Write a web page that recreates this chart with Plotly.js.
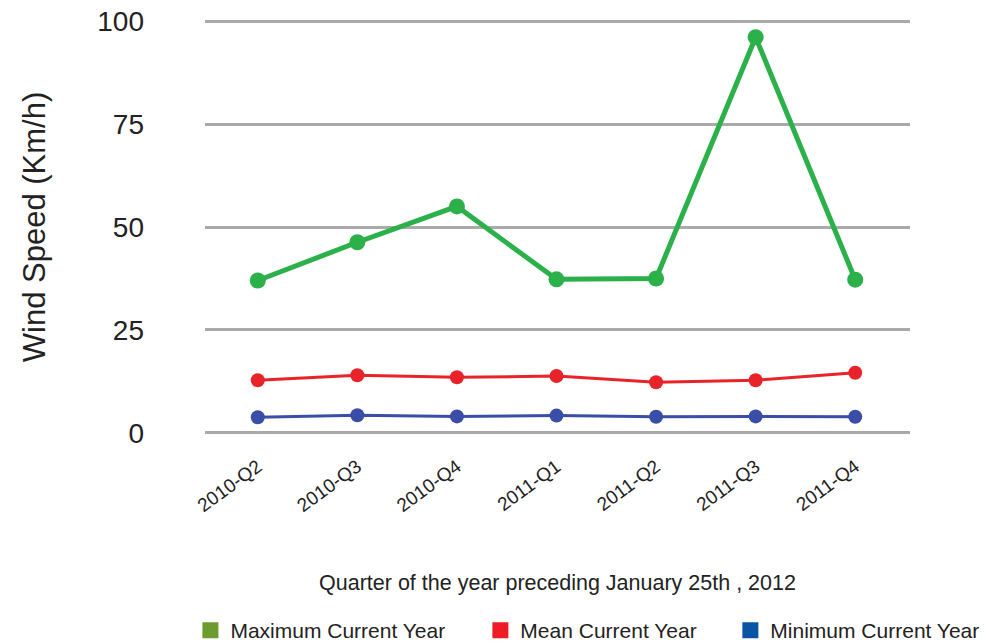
<!DOCTYPE html>
<html>
<head>
<meta charset="utf-8">
<script src="https://cdn.plot.ly/plotly-3.0.1.min.js"></script>
<style>html,body{margin:0;padding:0;background:#fff;}#chart{width:987px;height:644px;}</style>
</head>
<body>
<div id="chart"></div>
<script>
const quarters = ["2010-Q2", "2010-Q3", "2010-Q4", "2011-Q1", "2011-Q2", "2011-Q3", "2011-Q4"];
const maxCurrentYear = [37, 46.3, 55, 37.3, 37.5, 96.1, 37.2];
const meanCurrentYear = [12.8, 14, 13.5, 13.8, 12.3, 12.8, 14.6];
const minCurrentYear = [3.8, 4.3, 4.0, 4.2, 3.9, 4.0, 3.9];
const seriesNames = ["Maximum Current Year", "Mean Current Year", "Minimum Current Year"];
const yTicks = [0, 25, 50, 75, 100];

const lineColors = ["#2bb04a", "#e9232a", "#3a4ea7"];
const legendColors = ["#6c9c30", "#ee1d25", "#0a54a6"];
const font = "Liberation Sans, Arial, sans-serif";

const dataSeries = [maxCurrentYear, meanCurrentYear, minCurrentYear];
const lineWidths = [5, 3, 3];
const markerSizes = [16, 14, 14];
const legendIds = ["legend", "legend2", "legend3"];
const legendX = [-0.0207, 0.3906, 0.7452];

const traces = dataSeries.map((vals, i) => ({
  type: "scatter", mode: "lines+markers",
  x: quarters, y: vals, name: seriesNames[i], showlegend: false,
  line: {color: lineColors[i], width: lineWidths[i]},
  marker: {color: lineColors[i], size: markerSizes[i]},
  cliponaxis: false
}));
seriesNames.forEach((n, i) => traces.push({
  type: "scatter", mode: "markers", x: [null], y: [null], name: n,
  legend: legendIds[i],
  marker: {symbol: "square", color: legendColors[i], size: 20}
}));

const layout = {
  width: 987, height: 644,
  margin: {l: 205, r: 77, t: 17, b: 207, autoexpand: false},
  paper_bgcolor: "#fff", plot_bgcolor: "#fff",
  font: {family: font, color: "#222"},
  xaxis: {
    type: "category", range: [-0.53, 6.55], automargin: false,
    showgrid: false, zeroline: false, showline: false, ticks: "",
    tickangle: -36, tickfont: {size: 19, color: "#222"},
    ticklabelstandoff: 14,
    title: {text: "Quarter of the year preceding January 25th , 2012", font: {size: 21.5, color: "#222"}, standoff: 60}
  },
  yaxis: {
    range: [-1, 101], tickvals: yTicks, ticktext: yTicks.map(String), automargin: false,
    showgrid: true, gridcolor: "#aaaaaa", gridwidth: 3,
    zeroline: false, showline: false, ticks: "",
    tickfont: {size: 28, color: "#222"}, ticklabelstandoff: 60,
    title: {text: "Wind Speed (Km/h)", font: {size: 31, color: "#222"}, standoff: 42}
  },
  showlegend: true
};
legendIds.forEach((id, i) => {
  layout[id] = {
    orientation: "h", x: legendX[i], xanchor: "left", y: -0.412, yanchor: "top",
    font: {size: 21, color: "#222"}, bgcolor: "rgba(0,0,0,0)"
  };
});
Plotly.newPlot("chart", traces, layout, {displayModeBar: false, staticPlot: true});
</script>
</body>
</html>
